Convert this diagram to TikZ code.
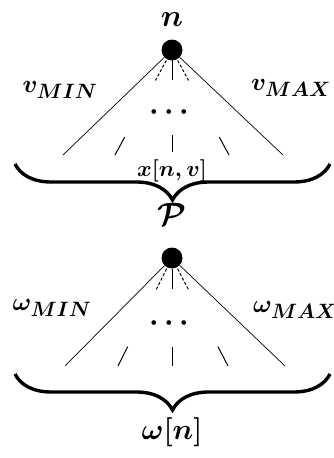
\documentclass[tikz,border=0pt]{standalone}
\usepackage{amsmath,amssymb}
\usepackage{tikz}
\usetikzlibrary{calc,decorations.pathreplacing}

\begin{document}
\begin{tikzpicture}[x=1pt, y=-1pt, thick]
  \tikzset{
    dot/.style={circle, fill=black, inner sep=0pt, minimum size=21pt},
    ray/.style={line width=0.7pt},
    tick/.style={line width=1pt},
    lbl/.style={font=\Huge\boldmath, inner sep=0pt},
    bigbrace/.style={decorate, decoration={brace, mirror, amplitude=36pt}, line width=3.4pt},
  }
  \useasboundingbox (0,0) rectangle (334,458);
  % upper tree
  \node[dot] (n) at (172,50) {};
  \node[lbl, scale=1.25] (nlab) at (172,20) {$n$};
  \coordinate (a1) at (63,155);
  \coordinate (a2) at (115,155);
  \coordinate (a3) at (172,152);
  \coordinate (a4) at (229,155);
  \coordinate (a5) at (283,155);
  \draw[ray] (n) -- (a1);
  \draw[ray] (n) -- (a5);
  \foreach \e/\s in {a2/densely dashed, a3/solid, a4/densely dashed} {
    \draw[ray, \s, line width=1pt] ($(n)!0.1!(\e)$) -- ($(n)!0.29!(\e)$);
    \draw[tick] ($(n)!0.83!(\e)$) -- (\e);
  }
  \node[lbl] (vmin) at (60,90) {$v_{MIN}$};
  \node[lbl] (vmax) at (291,88) {$v_{MAX}$};
  \node[lbl, scale=1.2] (adots) at (172,112) {$\cdots$};
  \draw[bigbrace] (15,164) -- (330,164);
  \node[lbl, font=\huge\boldmath, scale=1.08] (xnv) at (172,171) {$x[n,v]$};
  % lower tree
  \node[dot] (p) at (172,258) {};
  \node[lbl, scale=1.3] (plab) at (172,214) {$\mathcal{P}$};
  \coordinate (b1) at (65,366);
  \coordinate (b2) at (118,366);
  \coordinate (b3) at (172,366);
  \coordinate (b4) at (228,366);
  \coordinate (b5) at (285,366);
  \draw[ray] (p) -- (b1);
  \draw[ray] (p) -- (b5);
  \foreach \e/\s in {b2/densely dashed, b3/solid, b4/densely dashed} {
    \draw[ray, \s, line width=1pt] ($(p)!0.1!(\e)$) -- ($(p)!0.29!(\e)$);
    \draw[tick] ($(p)!0.82!(\e)$) -- (\e);
  }
  \node[lbl] (wmin) at (52,308) {$\omega_{MIN}$};
  \node[lbl] (wmax) at (295,310) {$\omega_{MAX}$};
  \node[lbl, scale=1.2] (bdots) at (172,323) {$\cdots$};
  \draw[bigbrace] (15,374) -- (330,374);
  \node[lbl, scale=1.17] (wn) at (172,432) {$\omega[n]$};
\end{tikzpicture}
\end{document}
